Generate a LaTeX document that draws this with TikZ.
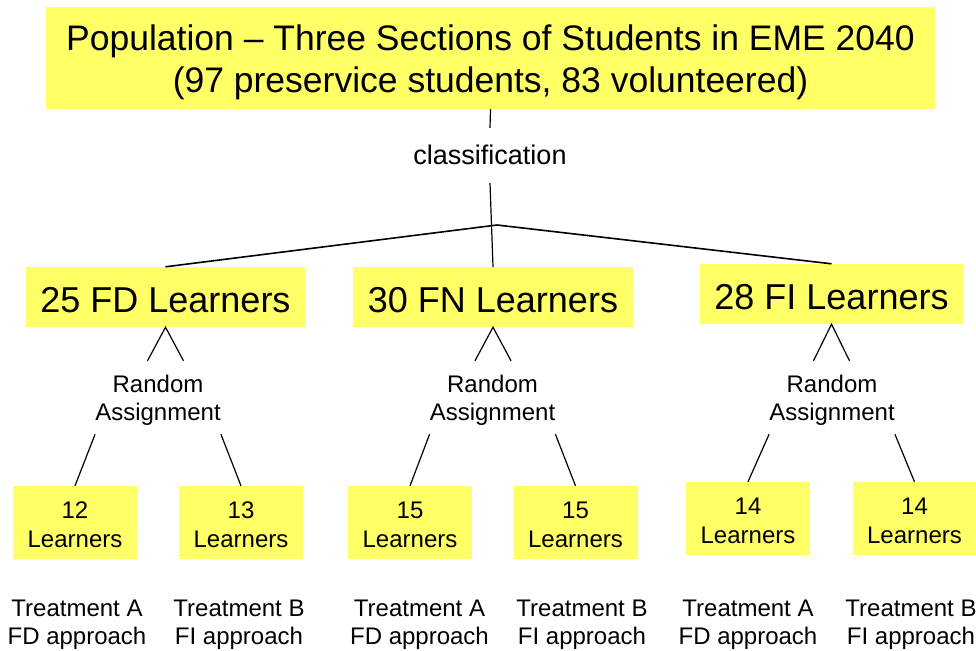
\documentclass[tikz,border=0pt]{standalone}
\usepackage{fontspec}
\setmainfont{Liberation Sans}
\definecolor{boxyellow}{RGB}{255,255,102}
\begin{document}
\begin{tikzpicture}[x=1pt,y=-1pt,
  bigbox/.style={fill=boxyellow,inner sep=0pt,font=\fontsize{36}{40}\selectfont,text height=45pt,text depth=15pt},
  smallbox/.style={fill=boxyellow,inner sep=0pt,minimum width=124pt,align=center,font=\fontsize{24}{29}\selectfont,text height=61pt,text depth=12pt},
  choose/.style={inner sep=0pt,minimum width=111pt,align=center,font=\fontsize{24}{28}\selectfont,text height=59pt,text depth=14pt},
  treat/.style={inner sep=0pt,align=center,font=\fontsize{24}{28}\selectfont},
  link/.style={draw,line width=1.2pt}]
\useasboundingbox (0,0) rectangle (976,650);
\node[fill=boxyellow,inner sep=0pt,minimum width=889pt,align=center,font=\fontsize{35.5}{42}\selectfont,text height=86pt,text depth=16pt] (pop) at (490.5,58) {Population – Three Sections of Students in EME 2040\\(97 preservice students, 83 volunteered)};
\node[inner sep=0pt,font=\fontsize{27}{30}\selectfont,text height=36pt,text depth=19pt] (class) at (490,155.5) {classification};
\coordinate (split) at (497,225);
\node[bigbox,minimum width=279pt] (fd) at (165.5,297) {25 FD Learners};
\node[bigbox,minimum width=280pt] (fn) at (493,297) {30 FN Learners};
\node[bigbox,minimum width=263pt] (fi) at (831.5,294) {28 FI Learners};
\node[choose] (rfd) at (158,397.5) {Random\\Assignment};
\node[choose] (rfn) at (492.5,397.5) {Random\\Assignment};
\node[choose] (rfi) at (832,397.5) {Random\\Assignment};
\node[smallbox] (s12) at (75,522.5) {12\\Learners};
\node[smallbox] (s13) at (241,522.5) {13\\Learners};
\node[smallbox] (s15a) at (410,522.5) {15\\Learners};
\node[smallbox] (s15b) at (575.5,522.5) {15\\Learners};
\node[smallbox] (s14a) at (748,518.5) {14\\Learners};
\node[smallbox,minimum width=123pt] (s14b) at (914.5,518.5) {14\\Learners};
\node[treat] (ta1) at (77,625) {Treatment A\\FD approach};
\node[treat] (tb1) at (239,625) {Treatment B\\FI approach};
\node[treat] (ta2) at (419.5,625) {Treatment A\\FD approach};
\node[treat] (tb2) at (582,625) {Treatment B\\FI approach};
\node[treat] (ta3) at (748,625) {Treatment A\\FD approach};
\node[treat] (tb3) at (911,625) {Treatment B\\FI approach};
\path[link] (pop.south) -- (class.north);
\path[link] (class.south) -- (fn.north);
\path[link,line width=1.6pt] (fd.north) -- (split) -- (fi.north);
\path[link] ([xshift=-18pt]fd.south |- rfd.north) -- (fd.south) -- ([xshift=18pt]fd.south |- rfd.north);
\path[link] ([xshift=-18pt]fn.south |- rfn.north) -- (fn.south) -- ([xshift=18pt]fn.south |- rfn.north);
\path[link] ([xshift=-18pt]fi.south |- rfi.north) -- (fi.south) -- ([xshift=18pt]fi.south |- rfi.north);
\path[link] (rfd.south west) -- (s12.north);
\path[link] (rfd.south east) -- (s13.north);
\path[link] (rfn.south west) -- (s15a.north);
\path[link] (rfn.south east) -- (s15b.north);
\path[link] (rfi.south west) -- (s14a.north);
\path[link] (rfi.south east) -- (s14b.north);
\end{tikzpicture}
\end{document}
